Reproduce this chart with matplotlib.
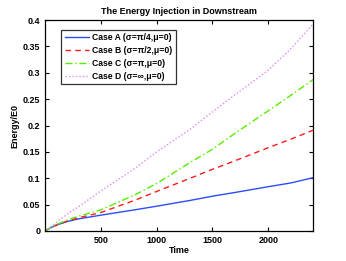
import matplotlib
matplotlib.use("Agg")
import matplotlib.pyplot as plt

plt.rcParams['font.family'] = ['Liberation Sans', 'DejaVu Sans']

time = [0, 50, 100, 200, 300, 500, 800, 1000, 1300, 1500, 1700, 2000, 2200, 2400]
case_a = [0, 0.006, 0.011, 0.018, 0.023, 0.030, 0.040, 0.047, 0.058, 0.066, 0.073, 0.084, 0.091, 0.101]
case_b = [0, 0.006, 0.011, 0.019, 0.025, 0.035, 0.058, 0.075, 0.100, 0.117, 0.133, 0.158, 0.174, 0.191]
case_c = [0, 0.006, 0.012, 0.021, 0.028, 0.040, 0.068, 0.090, 0.130, 0.155, 0.185, 0.228, 0.257, 0.287]
case_d = [0, 0.008, 0.016, 0.032, 0.046, 0.076, 0.118, 0.150, 0.193, 0.226, 0.258, 0.305, 0.345, 0.392]

labels = ['Case A (σ=π/4,μ=0)', 'Case B (σ=π/2,μ=0)', 'Case C (σ=π,μ=0)', 'Case D (σ=∞,μ=0)']
xticks = [500, 1000, 1500, 2000]
yticks = [0, 0.05, 0.1, 0.15, 0.2, 0.25, 0.3, 0.35, 0.4]

fig = plt.figure(figsize=(3.46, 2.61), dpi=100)
ax = fig.add_axes([45/346, 30/261, 268/346, 211/261])

ax.plot(time, case_a, color='#2b4cff', lw=1.0, ls='-', label=labels[0])
ax.plot(time, case_b, color='#ff1a1a', lw=1.0, ls=(0, (4, 3)), label=labels[1])
ax.plot(time, case_c, color='#55ee00', lw=1.0, ls=(0, (5, 2, 1, 2)), label=labels[2])
ax.plot(time, case_d, color='#dd88ff', lw=1.0, ls=(0, (1, 1.5)), label=labels[3])

ax.set_xlim(0, 2400)
ax.set_ylim(0, 0.4)
ax.set_xticks(xticks)
ax.set_xticklabels([str(t) for t in xticks])
ax.set_yticks(yticks)
ax.set_yticklabels(['0', '0.05', '0.1', '0.15', '0.2', '0.25', '0.3', '0.35', '0.4'])
ax.tick_params(direction='in', top=True, right=True, labelsize=6.5, length=3, width=0.8)
for lab in ax.get_xticklabels() + ax.get_yticklabels():
    lab.set_fontweight('bold')
for s in ax.spines.values():
    s.set_linewidth(0.9)

ax.set_xlabel('Time', fontsize=6.5, fontweight='bold', labelpad=1)
ax.set_ylabel('Energy/E0', fontsize=6.5, fontweight='bold', labelpad=2)
ax.set_title('The Energy Injection in Downstream', fontsize=6.5, fontweight='bold', pad=4)

leg = ax.legend(loc='upper left', bbox_to_anchor=(0.045, 0.975), prop={'weight': 'bold', 'size': 6.2},
                frameon=True, fancybox=False, edgecolor='black', handlelength=2.8,
                borderpad=0.4, labelspacing=0.45, handletextpad=0.4)
leg.get_frame().set_linewidth(0.9)

fig.savefig('out.png', dpi=100)
